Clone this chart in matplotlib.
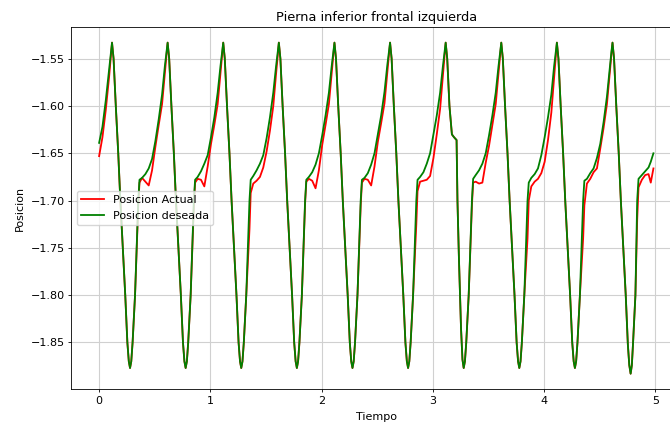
import matplotlib
matplotlib.use("Agg")
import matplotlib.pyplot as plt

# tiempo (s), un renglon por ciclo
tiempo = [
    0.000, 0.030, 0.060, 0.090, 0.105,
    0.116, 0.130, 0.150, 0.172, 0.191, 0.235, 0.254, 0.267, 0.278, 0.289, 0.301, 0.323, 0.352, 0.363, 0.386, 0.416, 0.446, 0.476, 0.506, 0.536, 0.566, 0.591, 0.606,
    0.616, 0.630, 0.650, 0.672, 0.691, 0.735, 0.754, 0.767, 0.778, 0.789, 0.801, 0.823, 0.852, 0.863, 0.886, 0.916, 0.946, 0.976, 1.006, 1.036, 1.066, 1.091, 1.106,
    1.116, 1.130, 1.150, 1.172, 1.191, 1.235, 1.254, 1.267, 1.278, 1.289, 1.301, 1.323, 1.352, 1.363, 1.386, 1.416, 1.446, 1.476, 1.506, 1.536, 1.566, 1.591, 1.606,
    1.616, 1.630, 1.650, 1.672, 1.691, 1.735, 1.754, 1.767, 1.778, 1.789, 1.801, 1.823, 1.852, 1.863, 1.886, 1.916, 1.946, 1.976, 2.006, 2.036, 2.066, 2.091, 2.106,
    2.116, 2.130, 2.150, 2.172, 2.191, 2.235, 2.254, 2.267, 2.278, 2.289, 2.301, 2.323, 2.352, 2.363, 2.386, 2.416, 2.446, 2.476, 2.506, 2.536, 2.566, 2.591, 2.606,
    2.616, 2.630, 2.650, 2.672, 2.691, 2.735, 2.754, 2.767, 2.778, 2.789, 2.801, 2.823, 2.852, 2.863, 2.886, 2.916, 2.946, 2.976, 3.006, 3.036, 3.066, 3.091, 3.106,
    3.116, 3.130, 3.150, 3.172, 3.191, 3.214, 3.222, 3.235, 3.254, 3.267, 3.278, 3.289, 3.301, 3.323, 3.352, 3.363, 3.386, 3.416, 3.446, 3.476, 3.506, 3.536, 3.566, 3.591, 3.606,
    3.616, 3.630, 3.650, 3.672, 3.691, 3.735, 3.754, 3.767, 3.778, 3.789, 3.801, 3.823, 3.852, 3.863, 3.886, 3.916, 3.946, 3.976, 4.006, 4.036, 4.066, 4.091, 4.106,
    4.116, 4.130, 4.150, 4.172, 4.191, 4.235, 4.254, 4.267, 4.278, 4.289, 4.301, 4.323, 4.352, 4.363, 4.386, 4.416, 4.446, 4.476, 4.506, 4.536, 4.566, 4.591, 4.606,
    4.616, 4.630, 4.650, 4.672, 4.691, 4.735, 4.754, 4.767, 4.779, 4.790, 4.801, 4.822, 4.838, 4.850, 4.880, 4.910, 4.940, 4.960, 4.984,
]

pos_actual = [
    -1.653, -1.633, -1.604, -1.569, -1.549,
    -1.533, -1.550, -1.600, -1.650, -1.700, -1.800, -1.850, -1.870, -1.877, -1.870, -1.850, -1.800, -1.705, -1.681, -1.676, -1.680, -1.684, -1.668, -1.643, -1.620, -1.598, -1.566, -1.547,
    -1.533, -1.550, -1.600, -1.650, -1.700, -1.800, -1.850, -1.870, -1.877, -1.870, -1.850, -1.800, -1.705, -1.681, -1.677, -1.678, -1.685, -1.664, -1.640, -1.620, -1.598, -1.566, -1.547,
    -1.533, -1.550, -1.600, -1.650, -1.700, -1.800, -1.850, -1.870, -1.877, -1.870, -1.850, -1.800, -1.730, -1.692, -1.682, -1.679, -1.675, -1.665, -1.648, -1.626, -1.600, -1.566, -1.547,
    -1.533, -1.550, -1.600, -1.650, -1.700, -1.800, -1.850, -1.870, -1.877, -1.870, -1.850, -1.800, -1.703, -1.680, -1.677, -1.679, -1.687, -1.668, -1.641, -1.620, -1.598, -1.566, -1.547,
    -1.533, -1.550, -1.600, -1.650, -1.700, -1.800, -1.850, -1.870, -1.877, -1.870, -1.850, -1.800, -1.705, -1.681, -1.677, -1.678, -1.684, -1.664, -1.638, -1.618, -1.597, -1.565, -1.547,
    -1.533, -1.550, -1.600, -1.650, -1.700, -1.800, -1.850, -1.870, -1.877, -1.870, -1.850, -1.800, -1.725, -1.690, -1.680, -1.679, -1.678, -1.674, -1.655, -1.630, -1.603, -1.568, -1.548,
    -1.533, -1.550, -1.600, -1.630, -1.633, -1.636, -1.700, -1.760, -1.835, -1.868, -1.877, -1.870, -1.850, -1.800, -1.705, -1.681, -1.680, -1.682, -1.681, -1.660, -1.642, -1.620, -1.598, -1.566, -1.547,
    -1.533, -1.550, -1.600, -1.650, -1.700, -1.800, -1.850, -1.870, -1.877, -1.870, -1.850, -1.800, -1.740, -1.700, -1.685, -1.680, -1.677, -1.671, -1.659, -1.636, -1.607, -1.570, -1.548,
    -1.533, -1.550, -1.600, -1.650, -1.700, -1.800, -1.850, -1.870, -1.877, -1.870, -1.850, -1.800, -1.740, -1.705, -1.682, -1.677, -1.670, -1.666, -1.645, -1.623, -1.598, -1.566, -1.547,
    -1.533, -1.550, -1.600, -1.650, -1.700, -1.800, -1.852, -1.874, -1.883, -1.874, -1.850, -1.800, -1.720, -1.686, -1.678, -1.673, -1.672, -1.681, -1.666,
]

pos_deseada = [
    -1.639, -1.622, -1.594, -1.562, -1.545,
    -1.533, -1.550, -1.600, -1.650, -1.700, -1.800, -1.850, -1.870, -1.877, -1.870, -1.850, -1.800, -1.700, -1.678, -1.676, -1.672, -1.666, -1.656, -1.637, -1.614, -1.588, -1.558, -1.543,
    -1.533, -1.550, -1.600, -1.650, -1.700, -1.800, -1.850, -1.870, -1.877, -1.870, -1.850, -1.800, -1.700, -1.678, -1.675, -1.669, -1.661, -1.652, -1.633, -1.612, -1.586, -1.558, -1.543,
    -1.533, -1.550, -1.600, -1.650, -1.700, -1.800, -1.850, -1.870, -1.877, -1.870, -1.850, -1.800, -1.700, -1.678, -1.674, -1.668, -1.661, -1.652, -1.634, -1.612, -1.586, -1.558, -1.543,
    -1.533, -1.550, -1.600, -1.650, -1.700, -1.800, -1.850, -1.870, -1.877, -1.870, -1.850, -1.800, -1.700, -1.678, -1.675, -1.670, -1.662, -1.650, -1.631, -1.610, -1.586, -1.558, -1.543,
    -1.533, -1.550, -1.600, -1.650, -1.700, -1.800, -1.850, -1.870, -1.877, -1.870, -1.850, -1.800, -1.700, -1.678, -1.676, -1.671, -1.662, -1.650, -1.630, -1.610, -1.585, -1.557, -1.543,
    -1.533, -1.550, -1.600, -1.650, -1.700, -1.800, -1.850, -1.870, -1.877, -1.870, -1.850, -1.800, -1.700, -1.678, -1.675, -1.670, -1.661, -1.650, -1.630, -1.610, -1.586, -1.558, -1.543,
    -1.533, -1.550, -1.600, -1.630, -1.633, -1.636, -1.700, -1.760, -1.835, -1.868, -1.877, -1.870, -1.850, -1.800, -1.700, -1.677, -1.673, -1.668, -1.661, -1.650, -1.631, -1.610, -1.586, -1.558, -1.543,
    -1.533, -1.550, -1.600, -1.650, -1.700, -1.800, -1.850, -1.870, -1.877, -1.870, -1.850, -1.800, -1.700, -1.681, -1.676, -1.672, -1.666, -1.652, -1.633, -1.612, -1.588, -1.558, -1.543,
    -1.533, -1.550, -1.600, -1.650, -1.700, -1.800, -1.850, -1.870, -1.877, -1.870, -1.850, -1.800, -1.700, -1.679, -1.677, -1.671, -1.666, -1.655, -1.640, -1.617, -1.590, -1.560, -1.543,
    -1.533, -1.550, -1.600, -1.650, -1.700, -1.800, -1.852, -1.874, -1.883, -1.874, -1.850, -1.800, -1.700, -1.677, -1.673, -1.669, -1.665, -1.659, -1.650,
]

# figura (la referencia esta un poco recortada a la derecha)
fig = plt.figure(figsize=(6.7, 4.28), dpi=100)
ax = fig.add_axes([0.1066, 0.0904, 0.910, 0.8465])

ax.plot(tiempo, pos_actual, color='red', linewidth=1.3, label='Posicion Actual')
ax.plot(tiempo, pos_deseada, color='green', linewidth=1.3, label='Posicion deseada')

ax.set_xlim(-0.249, 5.233)
ax.set_ylim(-1.8995, -1.5165)

ax.set_title('Pierna inferior frontal izquierda', fontsize=9.3, pad=4.5)
ax.set_xlabel('Tiempo', fontsize=8, labelpad=4)
ax.set_ylabel('Posicion', fontsize=8, labelpad=4)
ax.tick_params(labelsize=8, length=2.5, width=0.6, pad=2.5)
for s in ax.spines.values():
    s.set_linewidth(0.6)
ax.grid(True, color='#d0d0d0', linewidth=0.8)
ax.legend(loc='center left', fontsize=8)

fig.savefig('out.png', dpi=100)
